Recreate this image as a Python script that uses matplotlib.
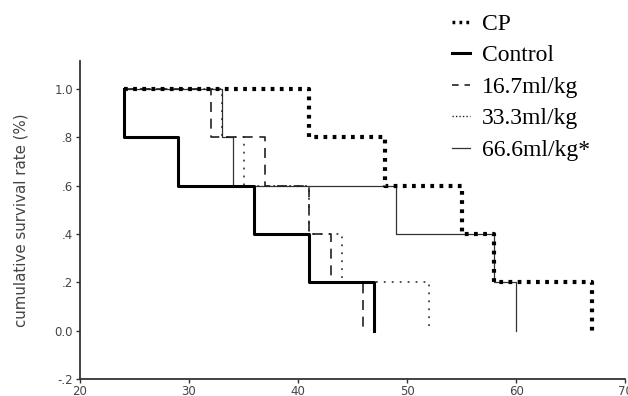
import matplotlib
matplotlib.use('Agg')
import matplotlib.pyplot as plt
from matplotlib.lines import Line2D

# survival steps: time of each drop, level after each step
levels = [1.0, 0.8, 0.6, 0.4, 0.2, 0.0]
cp_t = [24, 41, 48, 55, 58, 67]
control_t = [24, 24, 29, 36, 41, 47]
d167_t = [24, 32, 37, 41, 43, 46]
d333_t = [24, 33, 35, 41, 44, 52]
d666_t = [24, 33, 34, 49, 58, 60]

names = ['CP', 'Control', '16.7ml/kg', '33.3ml/kg', '66.6ml/kg*']
yticks = [-0.2, 0.0, 0.2, 0.4, 0.6, 0.8, 1.0]
ytick_labels = ['-.2', '0.0', '.2', '.4', '.6', '.8', '1.0']
xticks = [20, 30, 40, 50, 60, 70]

fig = plt.figure(figsize=(6.28, 3.96), dpi=100)
ax = fig.add_axes([0.1274, 0.043, 0.868, 0.803])

styles = [
    dict(color='black', lw=3.0, linestyle=(0, (0.9, 1.3))),
    dict(color='black', lw=2.2, linestyle='-'),
    dict(color='#222222', lw=1.2, linestyle=(0, (6, 4))),
    dict(color='#222222', lw=1.1, linestyle=(0, (1.2, 4))),
    dict(color='#333333', lw=0.9, linestyle='-'),
]
series = [cp_t, control_t, d167_t, d333_t, d666_t]

# draw thinner lines first so thick ones sit on top
order = [4, 3, 2, 1, 0]
for i in order:
    ax.step(series[i], levels, where='post', **styles[i])

ax.set_xlim(20, 70)
ax.set_ylim(-0.2, 1.116)
ax.set_xticks(xticks)
ax.set_yticks(yticks)
ax.set_yticklabels(ytick_labels)
ax.spines['top'].set_visible(False)
ax.spines['right'].set_visible(False)
for s in ['left', 'bottom']:
    ax.spines[s].set_color('#333333')
    ax.spines[s].set_linewidth(1.3)
ax.tick_params(colors='#333333', labelsize=8.5, length=3, width=1, pad=2)
ax.tick_params(axis='x', pad=1)
for lab in ax.get_xticklabels() + ax.get_yticklabels():
    lab.set_color('#444444')
ax.set_ylabel('cumulative survival rate (%)', fontsize=10.8, color='#444444')
ax.yaxis.set_label_coords(-0.095, 0.5)

handles = [Line2D([], [], **st) for st in styles]
handles[0] = Line2D([], [], color='black', lw=2.5, linestyle=(0, (0.8, 1.2)))
handles[2] = Line2D([], [], color='#222222', lw=1.2, linestyle=(0, (4, 3.5)))
handles[3] = Line2D([], [], color='#222222', lw=1.0, linestyle=(0, (1, 1.5)))
leg = fig.legend(handles, names, loc='upper left', bbox_to_anchor=(452 / 628, 0.966),
                 frameon=False, prop={'family': 'Liberation Serif', 'size': 17},
                 handlelength=0.75, handletextpad=0.5, labelspacing=0.42,
                 borderpad=0, borderaxespad=0)

fig.savefig('out.png', dpi=100)
